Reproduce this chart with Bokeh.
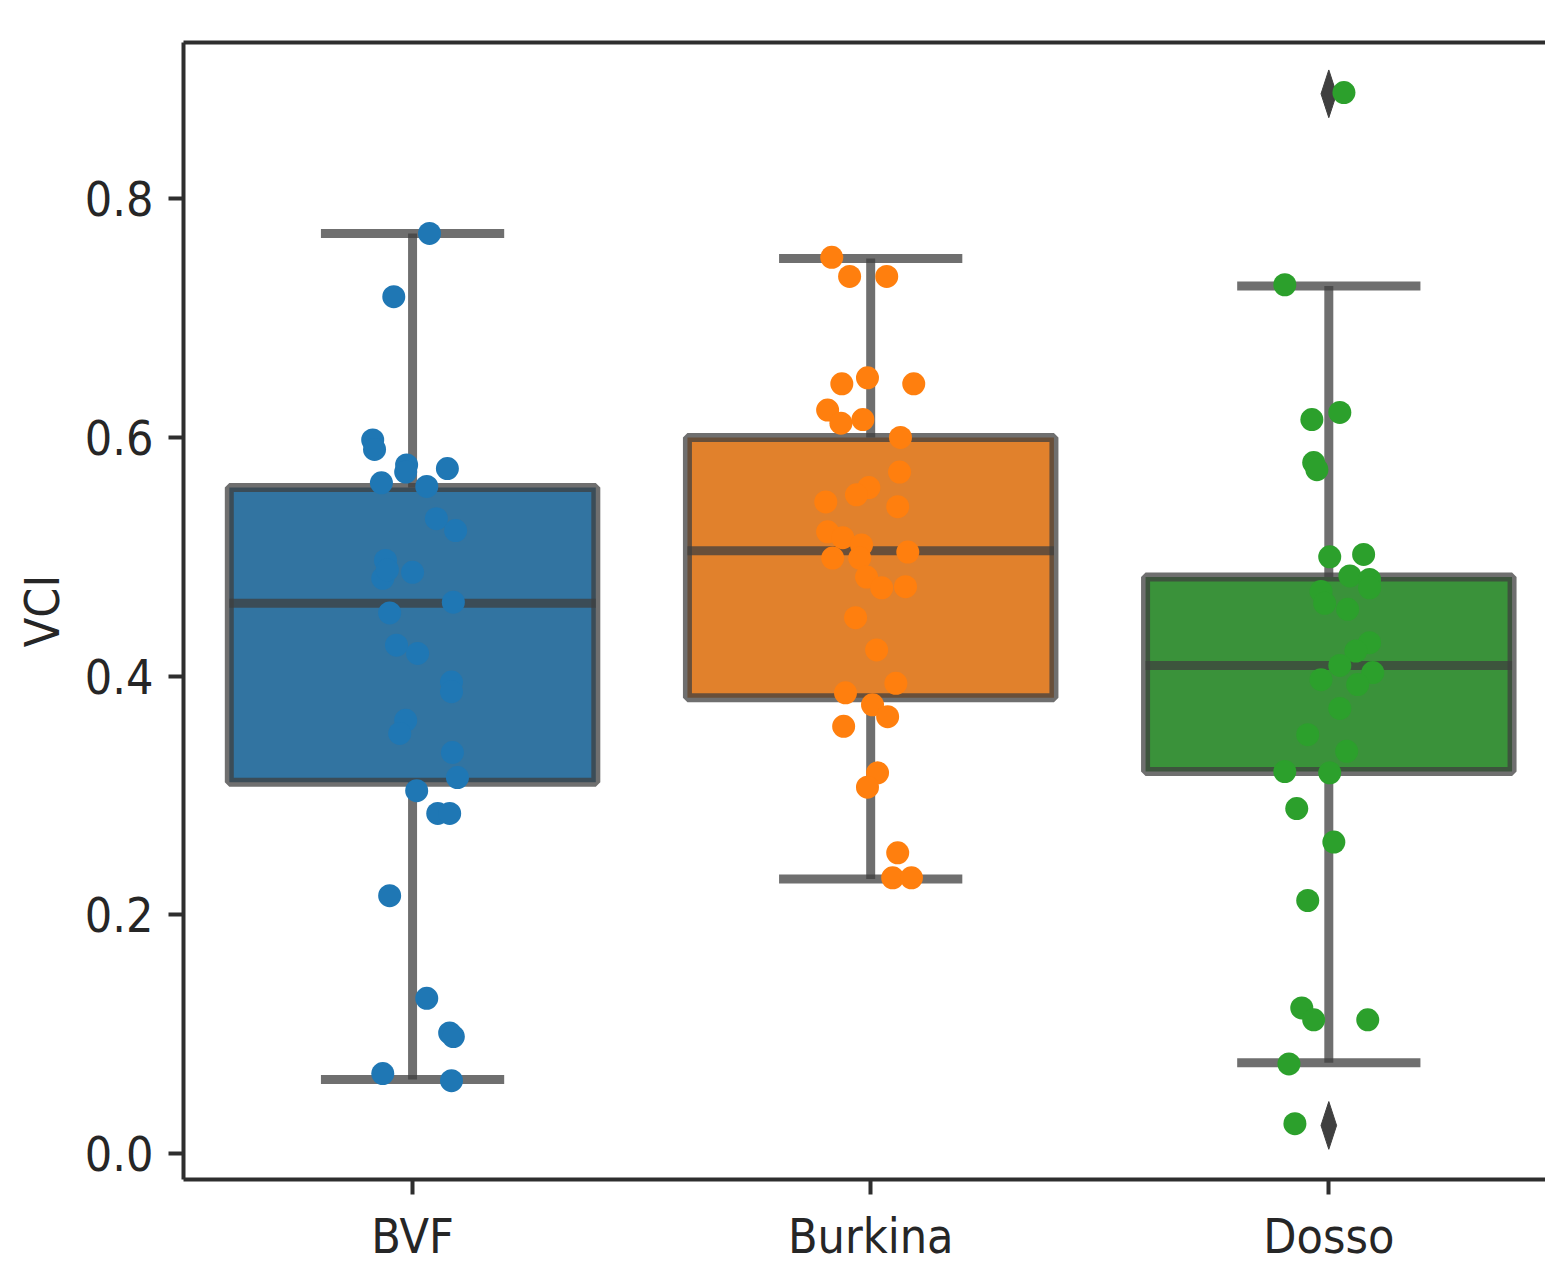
from bokeh.plotting import figure
from bokeh.models import FixedTicker, LinearAxis, Range1d, ColumnDataSource, PrintfTickFormatter
from bokeh.embed import file_html
from bokeh.resources import INLINE

# ---------------- data ----------------
categories = ["BVF", "Burkina", "Dosso"]
box_colors = ["#3274a1", "#e1812c", "#3a923a"]
point_colors = ["#1f77b4", "#ff7f0e", "#2ca02c"]

q1 = [0.311, 0.382, 0.320]
median = [0.461, 0.505, 0.409]
q3 = [0.558, 0.600, 0.483]
whisker_low = [0.062, 0.230, 0.076]
whisker_high = [0.771, 0.750, 0.727]

outlier_group = [2, 2]
outlier_values = [0.888, 0.0235]

bvf_values = [0.771, 0.718, 0.598, 0.590, 0.577, 0.571, 0.574, 0.562, 0.559, 0.532,
              0.522, 0.497, 0.482, 0.489, 0.487, 0.462, 0.453, 0.426, 0.419, 0.395,
              0.387, 0.363, 0.352, 0.336, 0.315, 0.304, 0.285, 0.285, 0.216, 0.130,
              0.101, 0.098, 0.067, 0.061]
bvf_jitter = [0.037, -0.041, -0.087, -0.083, -0.013, -0.015, 0.076, -0.068, 0.031, 0.052,
              0.094, -0.059, -0.065, -0.055, 0.000, 0.089, -0.050, -0.035, 0.011, 0.085,
              0.085, -0.015, -0.028, 0.087, 0.098, 0.009, 0.055, 0.081, -0.050, 0.031,
              0.081, 0.089, -0.065, 0.085]

burkina_values = [0.751, 0.735, 0.735, 0.645, 0.650, 0.645, 0.623, 0.612, 0.615, 0.600,
                  0.571, 0.558, 0.552, 0.546, 0.542, 0.521, 0.516, 0.510, 0.504, 0.499,
                  0.499, 0.483, 0.474, 0.475, 0.449, 0.422, 0.394, 0.386, 0.376, 0.366,
                  0.358, 0.319, 0.307, 0.252, 0.231, 0.231]
burkina_jitter = [-0.085, -0.046, 0.035, -0.063, -0.007, 0.094, -0.094, -0.065, -0.017, 0.065,
                  0.063, -0.004, -0.031, -0.098, 0.059, -0.094, -0.061, -0.020, 0.081, -0.083,
                  -0.024, -0.009, 0.024, 0.076, -0.033, 0.013, 0.055, -0.055, 0.004, 0.037,
                  -0.059, 0.015, -0.007, 0.059, 0.048, 0.089]

dosso_values = [0.889, 0.728, 0.615, 0.621, 0.579, 0.573, 0.500, 0.502, 0.484, 0.481,
                0.474, 0.471, 0.461, 0.456, 0.428, 0.421, 0.409, 0.403, 0.397, 0.393,
                0.373, 0.351, 0.337, 0.320, 0.319, 0.289, 0.261, 0.212, 0.122, 0.112,
                0.112, 0.075, 0.025]
dosso_jitter = [0.033, -0.096, -0.037, 0.024, -0.033, -0.026, 0.002, 0.076, 0.046, 0.089,
                0.089, -0.017, -0.009, 0.041, 0.089, 0.059, 0.024, 0.096, -0.017, 0.063,
                0.024, -0.046, 0.039, -0.096, 0.002, -0.070, 0.011, -0.046, -0.059, -0.033,
                0.085, -0.087, -0.074]

y_ticks = [0.0, 0.2, 0.4, 0.6, 0.8]
y_label = "VCI"

# ---------------- styles ----------------
FONT = "DejaVu Sans Condensed, DejaVu Sans"
TEXT_COLOR = "#262626"
SPINE_COLOR = "#2e2e2e"
LINE_COLOR = "#3f3f3f"
LINE_ALPHA = 0.75
LINE_W = 9
BOX_HALF = 0.4
CAP_HALF = 0.2
DIAMOND_HALF_W = 0.017
DIAMOND_HALF_H = 0.020

p = figure(width=1545, height=1279, output_backend="svg", toolbar_location=None,
           x_range=Range1d(-0.5, 2.473), y_range=Range1d(-0.0218, 0.931),
           min_border_left=183, min_border_right=0, min_border_top=42, min_border_bottom=100)
p.outline_line_color = None
p.grid.visible = False
p.background_fill_color = "white"
p.border_fill_color = "white"

idx = list(range(len(categories)))

# boxes
box_src = ColumnDataSource(dict(
    left=[i - BOX_HALF for i in idx], right=[i + BOX_HALF for i in idx],
    q1=q1, q3=q3, med=median, wl=whisker_low, wh=whisker_high, x=idx,
    cl=[i - CAP_HALF for i in idx], cr=[i + CAP_HALF for i in idx], color=box_colors))

p.quad(left="left", right="right", bottom="q1", top="q3", fill_color="color",
       line_color=LINE_COLOR, line_alpha=LINE_ALPHA, line_width=LINE_W, source=box_src)
p.segment(x0="left", x1="right", y0="med", y1="med", line_color=LINE_COLOR,
          line_alpha=LINE_ALPHA, line_width=LINE_W, source=box_src)
p.segment(x0="x", x1="x", y0="q3", y1="wh", line_color=LINE_COLOR,
          line_alpha=LINE_ALPHA, line_width=LINE_W, source=box_src)
p.segment(x0="x", x1="x", y0="q1", y1="wl", line_color=LINE_COLOR,
          line_alpha=LINE_ALPHA, line_width=LINE_W, source=box_src)
p.segment(x0="cl", x1="cr", y0="wh", y1="wh", line_color=LINE_COLOR,
          line_alpha=LINE_ALPHA, line_width=LINE_W, source=box_src)
p.segment(x0="cl", x1="cr", y0="wl", y1="wl", line_color=LINE_COLOR,
          line_alpha=LINE_ALPHA, line_width=LINE_W, source=box_src)

# outliers (thin diamonds)
oxs = [[g - DIAMOND_HALF_W, g, g + DIAMOND_HALF_W, g] for g in outlier_group]
oys = [[v, v + DIAMOND_HALF_H, v, v - DIAMOND_HALF_H] for v in outlier_values]
p.patches(xs=oxs, ys=oys, fill_color=LINE_COLOR, line_color=LINE_COLOR, line_width=1)

# strip points
groups = [(bvf_values, bvf_jitter), (burkina_values, burkina_jitter), (dosso_values, dosso_jitter)]
for i, (vals, jit) in enumerate(groups):
    src = ColumnDataSource(dict(x=[i + j for j in jit], y=vals))
    p.scatter(x="x", y="y", source=src, size=23, fill_color=point_colors[i], line_color=None)

# axes
for ax in (p.xaxis[0], p.yaxis[0]):
    ax.axis_line_color = SPINE_COLOR
    ax.axis_line_width = 4
    ax.major_tick_line_color = SPINE_COLOR
    ax.major_tick_line_width = 4
    ax.major_tick_out = 15
    ax.major_tick_in = 0
    ax.minor_tick_line_color = None
    ax.major_label_text_font = FONT
    ax.major_label_text_font_size = "48px"
    ax.major_label_text_color = TEXT_COLOR

p.xaxis.major_label_standoff = 13
p.yaxis.major_label_standoff = 15

p.xaxis.ticker = FixedTicker(ticks=idx)
p.xaxis.major_label_overrides = {i: c for i, c in zip(idx, categories)}
p.yaxis.ticker = FixedTicker(ticks=y_ticks)
p.yaxis.formatter = PrintfTickFormatter(format="%.1f")
p.yaxis.axis_label = y_label
p.yaxis.axis_label_text_font = FONT
p.yaxis.axis_label_text_font_size = "48px"
p.yaxis.axis_label_text_font_style = "normal"
p.yaxis.axis_label_text_color = TEXT_COLOR
p.yaxis.axis_label_standoff = 12

top = LinearAxis(ticker=FixedTicker(ticks=[]), axis_line_color=SPINE_COLOR, axis_line_width=4,
                 major_tick_line_color=None, minor_tick_line_color=None,
                 major_label_text_font_size="0px")
p.add_layout(top, "above")

open("out.html", "w").write(file_html(p, INLINE))
